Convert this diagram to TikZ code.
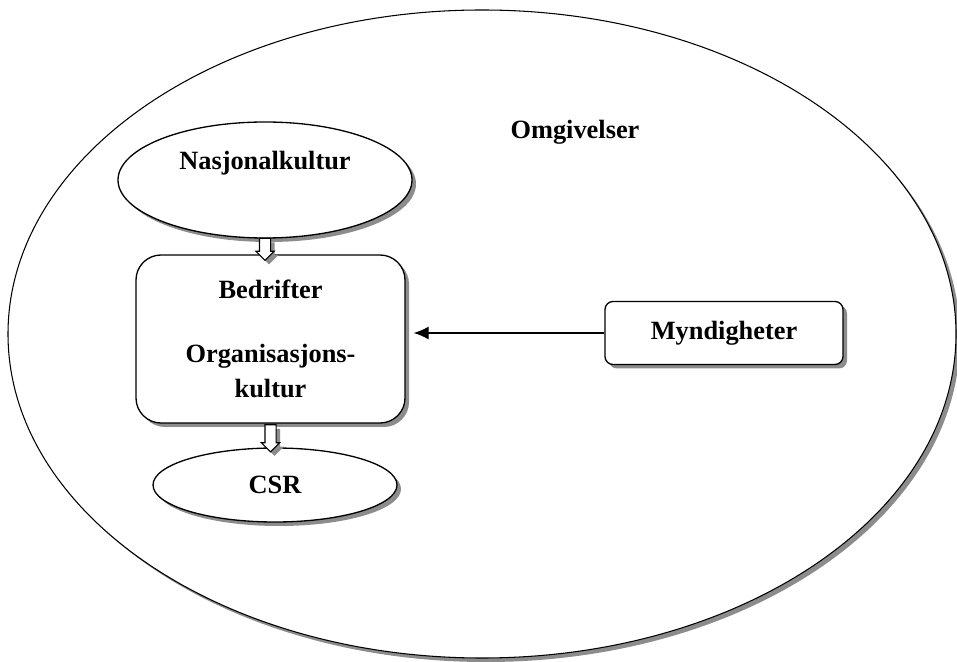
\documentclass[tikz,border=0pt]{standalone}
\usepackage{fontspec}
\setmainfont{Liberation Serif}
\usetikzlibrary{arrows.meta,positioning,shapes.geometric,shapes.arrows,shadows,calc}
\definecolor{Shade}{HTML}{8C8C8C}

\begin{document}
\begin{tikzpicture}[
  shade/.style={drop shadow={shadow xshift=0.08cm,shadow yshift=-0.08cm,fill=Shade,opacity=1}},
  label/.style={font=\fontsize{15}{20}\selectfont\bfseries,align=center,inner sep=0pt},
  world/.style={ellipse,draw,line width=0.6pt,fill=white,shade,minimum width=18.96cm,minimum height=12.96cm},
  culture/.style={ellipse,draw,line width=0.75pt,fill=white,shade,inner sep=0pt},
  firm/.style={rounded corners=0.5cm,draw,line width=0.75pt,fill=white,shade,minimum width=5.38cm,minimum height=3.36cm,font=\fontsize{15}{20}\selectfont\bfseries,align=center},
  actor/.style={rounded corners=0.16cm,draw,line width=0.75pt,fill=white,shade,minimum width=4.76cm,minimum height=1.26cm,font=\fontsize{15}{20}\selectfont\bfseries},
  hollow/.style={single arrow,draw,line width=0.6pt,fill=white,shade,rotate=-90,inner xsep=0pt,inner ysep=0.1cm,single arrow head extend=0.07cm,single arrow tip angle=90},
  arrow/.style={-{Latex[length=0.3cm,width=0.26cm]},line width=0.75pt}
]
\useasboundingbox (0,0) rectangle (19.14,13.22);
\node[world] (omg) at (9.64,6.54) {};
\node[label] (omgtxt) at (11.5,10.58) {Omgivelser};
\node[culture,minimum width=5.88cm,minimum height=2.32cm] (nasj) at (5.3,9.62) {};
\node[label] (nasjtxt) at ([yshift=0.34cm]nasj.center) {Nasjonalkultur};
\node[firm] (bedr) at (5.41,6.44) {Bedrifter\\[16pt]Organisasjons-\\kultur};
\node[culture,minimum width=4.88cm,minimum height=1.48cm,font=\fontsize{15}{20}\selectfont\bfseries] (csr) at (5.5,3.52) {CSR};
\node[actor] (mynd) at (14.48,6.56) {Myndigheter};
\node[hollow,minimum height=0.44cm] (pil1) at ($(nasj.south)!0.5!(nasj.south|-bedr.north)$) {};
\node[hollow,minimum height=0.54cm] (pil2) at ($(bedr.south)!0.5!(bedr.south|-csr.north)$) {};
\draw[arrow,shorten >=0.16cm] (mynd.west) -- (mynd.west-|bedr.east);
\end{tikzpicture}
\end{document}
